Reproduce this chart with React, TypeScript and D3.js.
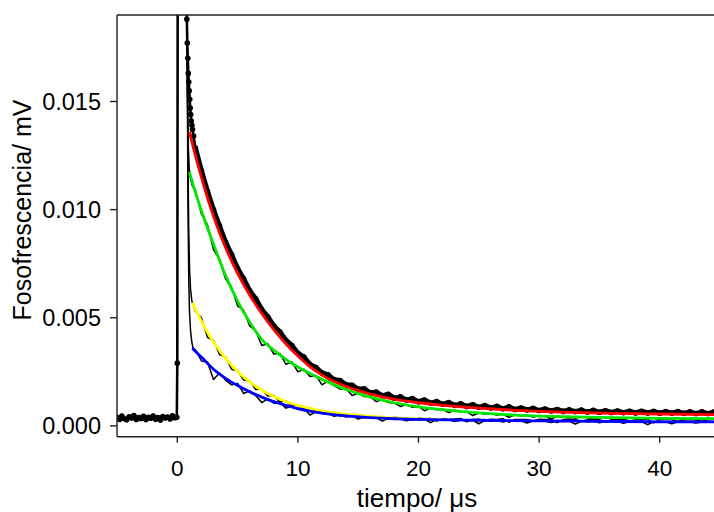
import React from 'react';
import * as d3 from 'd3';

const W = 714;
const H = 512;
const PLOT = { left: 117, top: 15, right: 720, bottom: 436.7 };

const xTicks = [0, 10, 20, 30, 40];
const yTicks = [0, 0.005, 0.01, 0.015];
const xDomain: [number, number] = [-5, 45];
const yDomain: [number, number] = [-0.0005, 0.019];

const xTitle = 'tiempo/ \u03bcs';
const yTitle = 'Fosofrescencia/ mV';

// sampling grids (µs)
const baseStart = -5;
const baseStep = 0.2;
const gridStart = 1.5;
const gridStep = 0.5;

// pre-trigger baseline of the dotted trace
const baselineA = [
  0.00040, 0.00030, 0.00045, 0.00033, 0.00028, 0.00042, 0.00036, 0.00048, 0.00030, 0.00038,
  0.00034, 0.00044, 0.00029, 0.00040, 0.00035, 0.00046, 0.00031, 0.00039, 0.00027, 0.00043,
  0.00036, 0.00041, 0.00032, 0.00047, 0.00038,
];

// pulse and fast drop (t, value)
const peakA: [number, number][] = [
  [-0.04, 0.0004], [0.0, 0.0029], [0.04, 0.024], [0.4, 0.026], [0.74, 0.024],
  [0.79, 0.0188], [0.83, 0.0177], [0.87, 0.0170], [0.91, 0.0163], [0.95, 0.0159],
  [0.99, 0.0155], [1.03, 0.0151], [1.07, 0.0147], [1.11, 0.0144], [1.16, 0.0141],
  [1.21, 0.0139], [1.26, 0.0137], [1.35, 0.0134],
];
const traceA = [
  0.01285, 0.01180, 0.01085, 0.01000, 0.00925, 0.00850, 0.00792, 0.00728, 0.00680, 0.00625,
  0.00588, 0.00538, 0.00505, 0.00462, 0.00435, 0.00396, 0.00372, 0.00336, 0.00318, 0.00284,
  0.00270, 0.00245, 0.00236, 0.00214, 0.00210, 0.00190, 0.00188, 0.00170, 0.00172, 0.00153,
  0.00156, 0.00140, 0.00146, 0.00128, 0.00134, 0.00120, 0.00126, 0.00112, 0.00120, 0.00106,
  0.00112, 0.00100, 0.00108, 0.00095, 0.00102, 0.00090, 0.00098, 0.00086, 0.00094, 0.00083,
  0.00090, 0.00079, 0.00088, 0.00076, 0.00083, 0.00074, 0.00081, 0.00071, 0.00078, 0.00069,
  0.00076, 0.00067, 0.00074, 0.00066, 0.00073, 0.00064, 0.00072, 0.00063, 0.00070, 0.00062,
  0.00069, 0.00061, 0.00068, 0.00060, 0.00068, 0.00060, 0.00067, 0.00059, 0.00066, 0.00059,
  0.00066, 0.00058, 0.00065, 0.00057, 0.00065, 0.00057, 0.00064, 0.00056,
];

const descentB: [number, number][] = [
  [0.70, 0.026], [0.78, 0.019], [0.85, 0.0150], [0.92, 0.0128], [1.0, 0.0118], [1.1, 0.0114], [1.25, 0.0111],
];
const traceB = [
  0.01090, 0.00980, 0.00930, 0.00815, 0.00770, 0.00680, 0.00640, 0.00555, 0.00535, 0.00462,
  0.00440, 0.00372, 0.00380, 0.00332, 0.00335, 0.00285, 0.00296, 0.00250, 0.00262, 0.00228,
  0.00233, 0.00190, 0.00208, 0.00186, 0.00170, 0.00172, 0.00140, 0.00152, 0.00136, 0.00135,
  0.00112, 0.00122, 0.00108, 0.00105, 0.00090, 0.00099, 0.00086, 0.00090, 0.00070, 0.00083,
  0.00075, 0.00077, 0.00062, 0.00072, 0.00064, 0.00066, 0.00048, 0.00061, 0.00055, 0.00057,
  0.00050, 0.00054, 0.00040, 0.00051, 0.00047, 0.00049, 0.00041, 0.00047, 0.00045, 0.00032,
  0.00044, 0.00042, 0.00043, 0.00036, 0.00042, 0.00040, 0.00029, 0.00040, 0.00038, 0.00039,
  0.00033, 0.00038, 0.00036, 0.00037, 0.00026, 0.00036, 0.00035, 0.00030, 0.00035, 0.00034,
  0.00036, 0.00028, 0.00034, 0.00034, 0.00031, 0.00035, 0.00033, 0.00032,
];

const descentC: [number, number][] = [
  [0.70, 0.026], [0.80, 0.019], [0.88, 0.0125], [0.95, 0.0090], [1.02, 0.0072], [1.1, 0.0063], [1.2, 0.0058], [1.3, 0.0056],
];
const traceC = [
  0.00530, 0.00500, 0.00410, 0.00395, 0.00330, 0.00318, 0.00262, 0.00255, 0.00212, 0.00208,
  0.00168, 0.00170, 0.00138, 0.00140, 0.00110, 0.00116, 0.00092, 0.00098, 0.00072, 0.00084,
  0.00066, 0.00071, 0.00058, 0.00064, 0.00045, 0.00056, 0.00048, 0.00050, 0.00036, 0.00046,
  0.00040, 0.00043, 0.00030, 0.00040, 0.00036, 0.00037, 0.00026, 0.00036, 0.00033, 0.00034,
  0.00022, 0.00033, 0.00030, 0.00032, 0.00034, 0.00019, 0.00030, 0.00031, 0.00024, 0.00031,
  0.00029, 0.00033, 0.00017, 0.00030, 0.00029, 0.00030, 0.00022, 0.00031, 0.00029, 0.00030,
  0.00015, 0.00029, 0.00032, 0.00030, 0.00021, 0.00029, 0.00031, 0.00028, 0.00019, 0.00029,
  0.00028, 0.00032, 0.00022, 0.00028, 0.00029, 0.00031, 0.00014, 0.00028, 0.00030, 0.00029,
  0.00020, 0.00028, 0.00030, 0.00027, 0.00021, 0.00028, 0.00030, 0.00027,
];

const descentD: [number, number][] = [
  [0.70, 0.026], [0.82, 0.018], [0.88, 0.0104], [0.95, 0.0068], [1.01, 0.0053], [1.1, 0.0044], [1.2, 0.0039], [1.3, 0.0036],
];
const traceD = [
  0.00352, 0.00300, 0.00295, 0.00215, 0.00245, 0.00212, 0.00190, 0.00196, 0.00150, 0.00162,
  0.00140, 0.00108, 0.00125, 0.00105, 0.00110, 0.00082, 0.00090, 0.00076, 0.00079, 0.00050,
  0.00066, 0.00057, 0.00058, 0.00044, 0.00052, 0.00041, 0.00046, 0.00032, 0.00041, 0.00036,
  0.00038, 0.00022, 0.00036, 0.00031, 0.00033, 0.00024, 0.00031, 0.00027, 0.00030, 0.00015,
  0.00029, 0.00026, 0.00028, 0.00020, 0.00027, 0.00024, 0.00026, 0.00010, 0.00026, 0.00023,
  0.00025, 0.00018, 0.00024, 0.00022, 0.00024, 0.00013, 0.00023, 0.00021, 0.00023, 0.00016,
  0.00022, 0.00020, 0.00022, 0.00008, 0.00021, 0.00019, 0.00021, 0.00014, 0.00020, 0.00019,
  0.00020, 0.00012, 0.00020, 0.00018, 0.00020, 0.00006, 0.00019, 0.00018, 0.00019, 0.00010,
  0.00019, 0.00017, 0.00018, 0.00013, 0.00018, 0.00017, 0.00018, 0.00012,
];

// fitted curves (t, value)
const fitRed: [number, number][] = [
  [1.0, 0.0136], [1.5, 0.0125], [2, 0.0115], [2.5, 0.01055], [3, 0.0097], [3.5, 0.00893], [4, 0.00825],
  [5, 0.00705], [6, 0.00605], [7, 0.0052], [8, 0.00445], [9, 0.0038], [10, 0.00323], [11, 0.00274],
  [12, 0.00235], [13, 0.00205], [14, 0.00182], [15, 0.00163], [16, 0.00147], [17, 0.00134], [18, 0.00123],
  [19, 0.00114], [20, 0.00107], [22, 0.00095], [25, 0.00082], [28, 0.00072], [31, 0.00065], [35, 0.00059],
  [40, 0.00055], [45, 0.00052],
];
const fitGreen: [number, number][] = [
  [1.0, 0.01175], [1.5, 0.0108], [2, 0.00995], [3, 0.0084], [4, 0.00696], [5, 0.00577], [6, 0.0048],
  [7, 0.004], [8, 0.0035], [9, 0.00308], [10, 0.00272], [11, 0.00242], [12, 0.00215], [14, 0.00168],
  [16, 0.00133], [18, 0.00107], [20, 0.00088], [22, 0.00075], [25, 0.0006], [28, 0.0005], [31, 0.00044],
  [35, 0.00039], [40, 0.00035], [45, 0.00033],
];
const fitYellow: [number, number][] = [
  [1.25, 0.0057], [1.5, 0.0054], [2, 0.00484], [2.5, 0.00433], [3, 0.00388], [4, 0.00312], [5, 0.00252],
  [6, 0.00204], [7, 0.00166], [8, 0.00136], [9, 0.00113], [10, 0.00095], [11, 0.00081], [12, 0.00069],
  [13, 0.00061], [14, 0.00054], [16, 0.00044], [18, 0.00037], [20, 0.00032], [22, 0.00029],
];
const fitBlue: [number, number][] = [
  [1.25, 0.0036], [1.5, 0.00345], [2, 0.00318], [3, 0.00262], [4, 0.0022], [5, 0.00187], [6, 0.00158],
  [7, 0.00133], [8, 0.00112], [9, 0.00095], [10, 0.0008], [11, 0.00068], [12, 0.00059], [14, 0.00046],
  [16, 0.00038], [18, 0.00033], [20, 0.0003], [25, 0.00026], [30, 0.00023], [35, 0.00021], [40, 0.00019],
  [45, 0.00018],
];

const onGrid = (vals: number[], t0: number, dt: number): [number, number][] =>
  vals.map((v, i) => [t0 + i * dt, v]);

export default function App() {
  const x = d3.scaleLinear().domain(xDomain).range([PLOT.left, PLOT.right]);
  const y = d3.scaleLinear().domain(yDomain).range([PLOT.bottom, PLOT.top]);

  const line = d3.line<[number, number]>().x((d) => x(d[0])).y((d) => y(d[1]));
  const smooth = d3
    .line<[number, number]>()
    .x((d) => x(d[0]))
    .y((d) => y(d[1]))
    .curve(d3.curveMonotoneX);

  const baseA = onGrid(baselineA, baseStart, baseStep);
  const decayA = onGrid(traceA, gridStart, gridStep);
  const pulseA: [number, number][] = [baseA[baseA.length - 1], ...peakA, decayA[0]];
  const seriesA: [number, number][] = [...baseA, ...peakA, ...decayA];
  const seriesB = [...descentB, ...onGrid(traceB, gridStart, gridStep)];
  const seriesC = [...descentC, ...onGrid(traceC, gridStart, gridStep)];
  const seriesD = [...descentD, ...onGrid(traceD, gridStart, gridStep)];

  const font = "'Liberation Sans', Arial, Helvetica, sans-serif";
  const axisColor = '#222';

  return (
    <svg
      width={W}
      height={H}
      style={{ position: 'absolute', left: 0, top: 0, background: '#fff' }}
      fontFamily={font}
    >
      <defs>
        <clipPath id="plotClip">
          <rect x={PLOT.left} y={PLOT.top} width={PLOT.right - PLOT.left} height={PLOT.bottom - PLOT.top} />
        </clipPath>
      </defs>
      <rect x={0} y={0} width={W} height={H} fill="#fff" />

      <g clipPath="url(#plotClip)">
        {[seriesB, seriesC, seriesD].map((s, i) => (
          <path key={i} d={line(s) || ''} fill="none" stroke="#000" strokeWidth={1.5} strokeLinejoin="round" />
        ))}
        <path d={line(baseA) || ''} fill="none" stroke="#000" strokeWidth={4.5} strokeLinejoin="round" />
        <path d={line(pulseA) || ''} fill="none" stroke="#000" strokeWidth={2.6} strokeLinejoin="round" />
        <path d={line(decayA) || ''} fill="none" stroke="#000" strokeWidth={5} strokeLinejoin="round" />
        {seriesA.map((d, i) => (
          <circle key={i} cx={x(d[0])} cy={y(d[1])} r={2.8} fill="#000" />
        ))}
        <path d={smooth(fitRed) || ''} fill="none" stroke="#ff0000" strokeWidth={2.8} />
        <path d={smooth(fitGreen) || ''} fill="none" stroke="#00e600" strokeWidth={2.8} />
        <path d={smooth(fitYellow) || ''} fill="none" stroke="#ffff00" strokeWidth={2.8} />
        <path d={smooth(fitBlue) || ''} fill="none" stroke="#0000ff" strokeWidth={2.8} />
      </g>

      {/* frame */}
      <line x1={PLOT.left} x2={PLOT.right} y1={PLOT.top} y2={PLOT.top} stroke={axisColor} strokeWidth={1.4} />
      <line x1={PLOT.left} x2={PLOT.left} y1={PLOT.top} y2={PLOT.bottom} stroke={axisColor} strokeWidth={1.4} />
      <line x1={PLOT.left} x2={PLOT.right} y1={PLOT.bottom} y2={PLOT.bottom} stroke={axisColor} strokeWidth={1.4} />

      {/* y axis */}
      {yTicks.map((t) => (
        <g key={t}>
          <line x1={PLOT.left - 7} x2={PLOT.left} y1={y(t)} y2={y(t)} stroke={axisColor} strokeWidth={1.4} />
          <text x={101} y={y(t)} dy="0.36em" textAnchor="end" fontSize={23.5} fill="#000">
            {d3.format('.3f')(t)}
          </text>
        </g>
      ))}

      {/* x axis */}
      {xTicks.map((t) => (
        <g key={t}>
          <line x1={x(t)} x2={x(t)} y1={PLOT.bottom} y2={PLOT.bottom + 6} stroke={axisColor} strokeWidth={1.4} />
          <text x={x(t)} y={476} textAnchor="middle" fontSize={22.5} fill="#000">
            {t}
          </text>
        </g>
      ))}

      <text x={417} y={507} textAnchor="middle" fontSize={26} fill="#000">
        {xTitle}
      </text>
      <text transform="translate(31,210) rotate(-90)" textAnchor="middle" fontSize={25} fill="#000">
        {yTitle}
      </text>
    </svg>
  );
}
